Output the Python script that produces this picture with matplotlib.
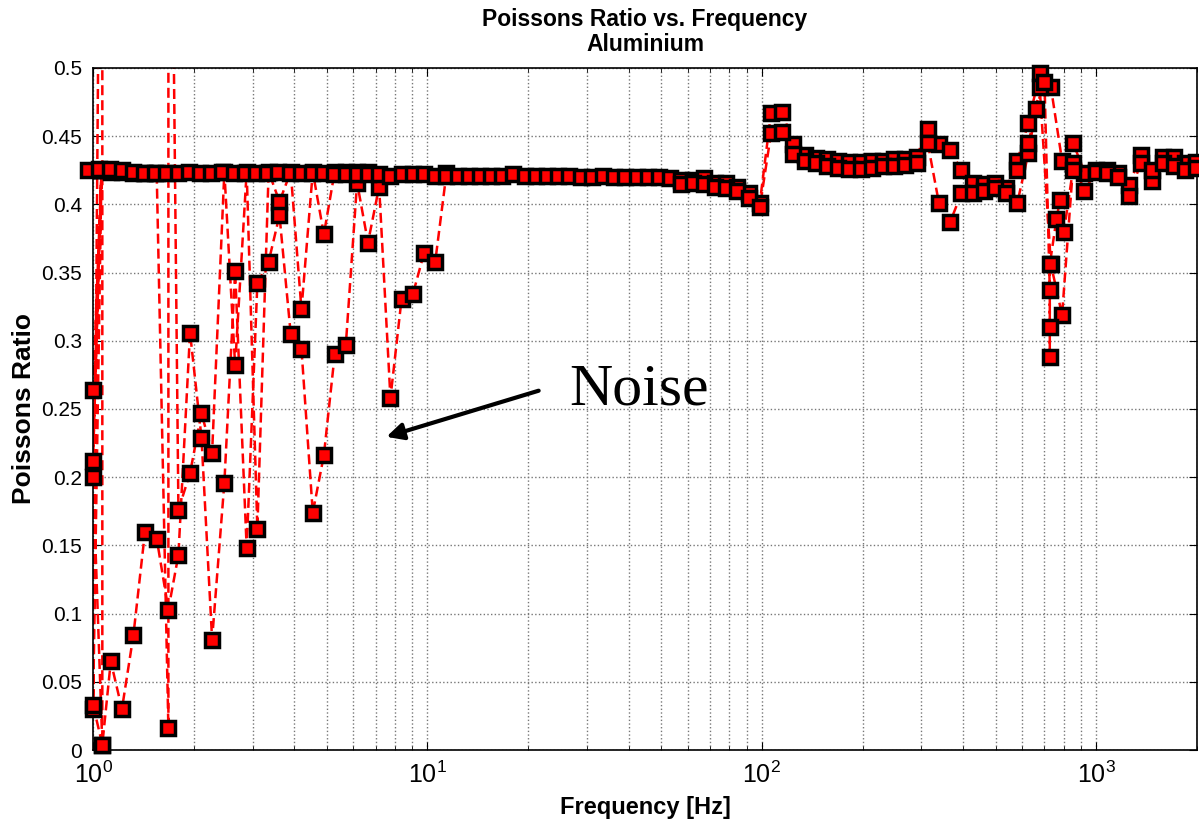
# Poissons ratio vs frequency, aluminium (MATLAB-style log plot)

import numpy as np
import matplotlib
matplotlib.use("Agg")
import matplotlib.pyplot as plt

plt.rcParams['font.family'] = ['Liberation Sans', 'DejaVu Sans']

# main sweep, 30 points per decade
freq_main = [0.966, 1.043, 1.127, 1.217, 1.315, 1.420, 1.534, 1.657, 1.790, 1.933,
             2.088, 2.256, 2.437, 2.632, 2.843, 3.071, 3.317, 3.583, 3.870, 4.180,
             4.514, 4.877, 5.268, 5.689, 6.145, 6.637, 7.170, 7.745, 8.364, 9.035,
             9.759, 10.54, 11.39, 12.30, 13.28, 14.35, 15.50, 16.74, 18.08, 19.53,
             21.10, 22.79, 24.62, 26.59, 28.72, 31.02, 33.51, 36.20, 39.09, 42.22,
             45.61, 49.26, 53.21, 57.46, 62.08, 67.05, 72.42, 78.23, 84.50, 91.27,
             98.58, 106.5, 115.0, 124.2, 134.2, 145.0, 156.6, 169.1, 182.7, 197.3,
             213.1, 230.2, 248.7, 268.5, 290.1, 313.3, 338.4, 365.6, 394.8, 426.5,
             460.7, 497.6, 537.5, 580.4, 627.0, 677.2, 731.5, 790.1, 853.4, 921.8,
             995.9, 1075, 1162, 1255, 1356, 1464, 1582, 1708, 1845, 1993]
nu_main = [0.425, 0.426, 0.426, 0.425, 0.424, 0.423, 0.423, 0.423, 0.423, 0.424,
           0.423, 0.423, 0.424, 0.423, 0.423, 0.423, 0.423, 0.424, 0.423, 0.423,
           0.423, 0.423, 0.422, 0.422, 0.422, 0.422, 0.422, 0.421, 0.422, 0.422,
           0.422, 0.421, 0.421, 0.421, 0.421, 0.421, 0.421, 0.421, 0.422, 0.421,
           0.421, 0.421, 0.421, 0.421, 0.420, 0.420, 0.421, 0.420, 0.420, 0.420,
           0.420, 0.420, 0.419, 0.418, 0.418, 0.419, 0.416, 0.416, 0.413, 0.408,
           0.401, 0.467, 0.468, 0.444, 0.436, 0.434, 0.433, 0.432, 0.431, 0.431,
           0.432, 0.432, 0.433, 0.433, 0.435, 0.455, 0.444, 0.440, 0.425, 0.416,
           0.415, 0.416, 0.412, 0.432, 0.460, 0.496, 0.486, 0.432, 0.445, 0.423,
           0.425, 0.425, 0.423, 0.414, 0.436, 0.417, 0.435, 0.435, 0.430, 0.431]

# second sweep above ~55 Hz
freq_hi = [57.46, 62.08, 67.05, 72.42, 78.23, 84.50, 91.27, 98.58, 106.5, 115.0,
           124.2, 134.2, 145.0, 156.6, 169.1, 182.7, 197.3, 213.1, 230.2, 248.7,
           268.5, 290.1, 313.3, 338.4, 365.6, 394.8, 426.5, 460.7, 497.6, 537.5,
           580.4, 627.0, 677.2, 731.5, 790.1, 853.4, 921.8, 995.9, 1075, 1162,
           1255, 1356, 1464, 1582, 1708, 1845, 1993]
nu_hi = [0.415, 0.416, 0.415, 0.413, 0.412, 0.410, 0.405, 0.398, 0.452, 0.453,
         0.437, 0.432, 0.430, 0.428, 0.427, 0.426, 0.426, 0.427, 0.428, 0.428,
         0.429, 0.430, 0.445, 0.401, 0.387, 0.408, 0.408, 0.410, 0.412, 0.408,
         0.401, 0.438, 0.486, 0.356, 0.319, 0.430, 0.410, 0.424, 0.423, 0.420,
         0.406, 0.430, 0.425, 0.430, 0.428, 0.425, 0.427]

# resonance dip near 700 Hz
freq_dip = [580.4, 627.0, 660.0, 700.0, 726.0, 726.0, 726.0, 726.0, 760.0, 778.0, 800.0, 851.0]
nu_dip = [0.425, 0.445, 0.470, 0.490, 0.337, 0.310, 0.288, 0.356, 0.389, 0.403, 0.380, 0.425]

# noisy low-frequency sweeps
freq_n1 = [1.0, 1.066, 1.13, 1.22, 1.32, 1.43, 1.55, 1.68, 1.80, 1.95, 2.11, 2.27,
           2.47, 2.66, 2.88, 3.10, 3.35, 3.61, 3.90, 4.20, 4.54, 4.90, 5.28, 5.70,
           6.16, 6.64, 7.17, 7.75, 8.37, 9.04, 9.76, 10.55, 11.4]
nu_n1 = [0.033, 0.004, 0.065, 0.030, 0.084, 0.160, 0.155, 0.103, 0.143, 0.306, 0.229, 0.081,
         0.196, 0.351, 0.148, 0.342, 0.358, 0.392, 0.305, 0.294, 0.174, 0.216, 0.290, 0.297,
         0.416, 0.372, 0.413, 0.258, 0.331, 0.334, 0.364, 0.358, 0.423]

freq_n2 = [1.0, 1.06, 1.0, 1.06, 1.0, 1.066, 1.066, 1.0, 1.06, 1.13, 1.22, 1.32, 1.43,
           1.55, 1.68, 1.68, 1.80, 1.95, 2.11, 2.27, 2.47, 2.66, 2.88, 3.10, 3.35,
           3.61, 3.90, 4.20, 4.54, 4.90, 5.28, 5.70, 6.16, 6.64]
nu_n2 = [0.264, 0.425, 0.212, 0.425, 0.200, 0.004, 0.900, 0.030, 0.425, 0.424, 0.424, 0.423, 0.423,
         0.423, 0.016, 0.900, 0.176, 0.203, 0.247, 0.218, 0.424, 0.282, 0.424, 0.162, 0.424,
         0.402, 0.424, 0.323, 0.424, 0.378, 0.424, 0.424, 0.424, 0.424]

yticks = [0, 0.05, 0.1, 0.15, 0.2, 0.25, 0.3, 0.35, 0.4, 0.45, 0.5]
ytick_labels = ['0', '0.05', '0.1', '0.15', '0.2', '0.25', '0.3', '0.35', '0.4', '0.45', '0.5']

fig = plt.figure(figsize=(11.99, 8.24), dpi=100)
ax = fig.add_axes([0.0776, 0.0898, 0.9207, 0.8277])

line_kw = dict(color='red', linestyle='--', linewidth=1.8, dashes=(4, 2))
mark_kw = dict(linestyle='none', marker='s', markersize=9.5, markerfacecolor='red',
               markeredgecolor='black', markeredgewidth=2.5, clip_on=False, zorder=3)

for f, v in [(freq_n2, nu_n2), (freq_n1, nu_n1), (freq_main, nu_main),
             (freq_hi, nu_hi), (freq_dip, nu_dip)]:
    f = np.array(f)
    v = np.array(v)
    ax.plot(f, v, zorder=2, **line_kw)
    keep = v <= 0.5
    ax.plot(f[keep], v[keep], **mark_kw)

ax.set_xscale('log')
ax.set_xlim(1, 2000)
ax.set_ylim(0, 0.5)
ax.set_yticks(yticks)
ax.set_yticklabels(ytick_labels)

ax.grid(True, which='major', color='#777777', linestyle=':', linewidth=1.0)
ax.grid(True, which='minor', axis='x', color='#777777', linestyle=':', linewidth=1.0)
ax.set_axisbelow(True)
ax.tick_params(which='both', direction='in', top=True, right=True, labelsize=15)
ax.tick_params(axis='x', which='major', pad=8, labelsize=18)
ax.tick_params(axis='y', which='major', pad=8)
ax.tick_params(which='major', length=6)
ax.tick_params(which='minor', length=3)
for s in ax.spines.values():
    s.set_linewidth(1.2)

ax.set_title('Poissons Ratio vs. Frequency\nAluminium', fontsize=16.5, fontweight='bold',
             linespacing=1.15, pad=12)
ax.set_xlabel('Frequency [Hz]', fontsize=17, fontweight='bold', labelpad=6)
ax.set_ylabel('Poissons Ratio', fontsize=19, fontweight='bold', labelpad=4)

ax.annotate('', xy=(7.4, 0.229), xytext=(21.9, 0.264),
            arrowprops=dict(arrowstyle='-|>', color='black', lw=3, mutation_scale=25))
ax.text(26.5, 0.253, 'Noise', fontsize=43, family='Liberation Serif', va='baseline', ha='left')

fig.savefig('out.png', dpi=100)
